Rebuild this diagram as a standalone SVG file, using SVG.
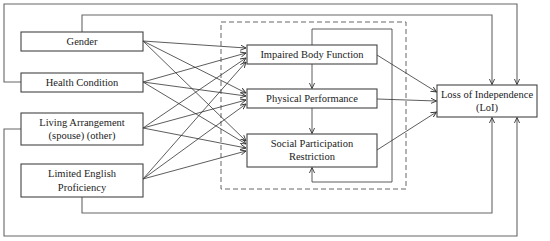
<svg xmlns="http://www.w3.org/2000/svg" width="550" height="241" viewBox="0 0 550 241">
<style>
.box{fill:#fff;stroke:#444;stroke-width:1.1}
.t{font-family:"Liberation Serif","Times New Roman",serif;font-size:10.5px;fill:#222;text-anchor:middle}
.c{fill:none;stroke:#333;stroke-width:0.8;marker-end:url(#ah)}
.g{fill:none;stroke:#666;stroke-width:1.1}
.ga{fill:none;stroke:#666;stroke-width:1.1;marker-end:url(#ah)}
.dash{fill:none;stroke:#666;stroke-width:1;stroke-dasharray:5,3}
</style>
<defs>
<marker id="ah" viewBox="0 0 8 8" refX="7.5" refY="4" markerWidth="6" markerHeight="6" markerUnits="userSpaceOnUse" orient="auto">
<path d="M0,0.5 L7.5,4 L0,7.5" fill="none" stroke="#333" stroke-width="1.2"/>
</marker>
</defs>
<rect width="550" height="241" fill="#fff"/>
<rect class="dash" x="221" y="22" width="185" height="167"/>
<g id="connectors">
<!-- outer feedback lines -->
<polyline class="ga" points="21,82 4,82 4,4 517,4 517,84.5"/>
<polyline class="ga" points="82,32 82,15 492,15 492,84.5"/>
<polyline class="ga" points="21,129 4,129 4,236 517,236 517,117.5"/>
<polyline class="ga" points="82,197 82,213 492,213 492,117.5"/>
<!-- left to mediators -->
<line class="c" x1="143" y1="41" x2="246" y2="48"/>
<line class="c" x1="143" y1="41" x2="246" y2="93"/>
<line class="c" x1="143" y1="41" x2="246" y2="141"/>
<line class="c" x1="143" y1="82" x2="246" y2="53"/>
<line class="c" x1="143" y1="82" x2="246" y2="96"/>
<line class="c" x1="143" y1="82" x2="246" y2="144"/>
<line class="c" x1="143" y1="128" x2="246" y2="58"/>
<line class="c" x1="143" y1="128" x2="246" y2="100"/>
<line class="c" x1="143" y1="128" x2="246" y2="148"/>
<line class="c" x1="143" y1="179" x2="246" y2="62"/>
<line class="c" x1="143" y1="179" x2="246" y2="104"/>
<line class="c" x1="143" y1="179" x2="246" y2="151"/>
<!-- mediator chain -->
<line class="c" x1="312" y1="64" x2="312" y2="88.5"/>
<line class="c" x1="312" y1="108" x2="312" y2="133.5"/>
<polyline class="c" points="312,45 312,29 392,29 392,182 312,182 312,167.5"/>
<!-- mediators to LoI -->
<line class="c" x1="377" y1="55" x2="436.5" y2="92"/>
<line class="c" x1="377" y1="99" x2="436.5" y2="101"/>
<line class="c" x1="377" y1="150" x2="436.5" y2="112"/>
</g>
<g id="gender"><rect class="box" x="21" y="32" width="122" height="19"/><text class="t" x="82" y="45">Gender</text></g>
<g id="health"><rect class="box" x="21" y="73" width="122" height="19"/><text class="t" x="82" y="86">Health Condition</text></g>
<g id="living"><rect class="box" x="21" y="113" width="122" height="32"/><text class="t" x="82" y="126">Living Arrangement</text><text class="t" x="82" y="139">(spouse) (other)</text></g>
<g id="english"><rect class="box" x="21" y="164" width="122" height="33"/><text class="t" x="82" y="177">Limited English</text><text class="t" x="82" y="191">Proficiency</text></g>
<g id="impaired"><rect class="box" x="247" y="45" width="130" height="19"/><text class="t" x="312" y="58">Impaired Body Function</text></g>
<g id="physical"><rect class="box" x="247" y="89" width="130" height="19"/><text class="t" x="312" y="102">Physical Performance</text></g>
<g id="social"><rect class="box" x="247" y="134" width="130" height="33"/><text class="t" x="312" y="147">Social Participation</text><text class="t" x="312" y="160">Restriction</text></g>
<g id="loi"><rect class="box" x="437" y="85" width="100" height="32"/><text class="t" x="487" y="98">Loss of Independence</text><text class="t" x="487" y="111">(LoI)</text></g>
</svg>
